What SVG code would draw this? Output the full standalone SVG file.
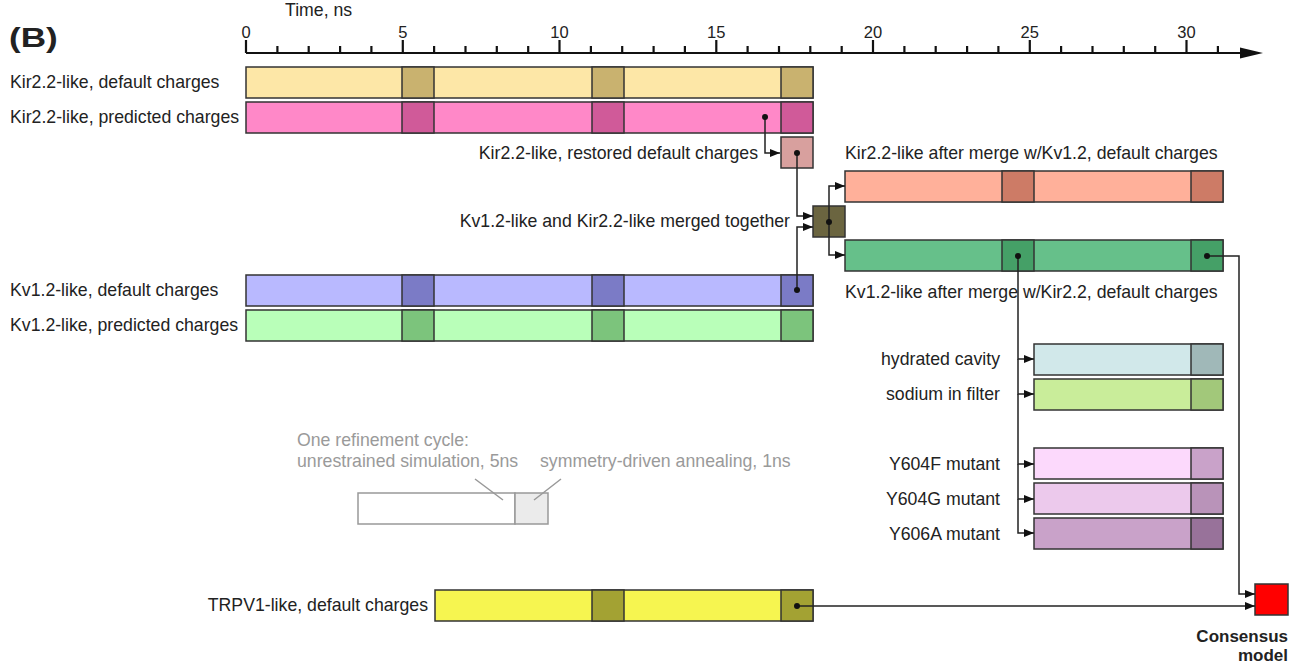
<svg xmlns="http://www.w3.org/2000/svg" width="1299" height="667" viewBox="0 0 1299 667">
<defs>
<style>
text{font-family:"Liberation Sans",Arial,sans-serif;font-size:17.7px;fill:#222}
.num{font-size:16.5px;text-anchor:middle}
.r{text-anchor:end}
.g{fill:#9a9a9a}
.b{font-weight:bold}
.seg{stroke:#333;stroke-width:1.5}
.out{fill:none;stroke:#444;stroke-width:1.5}
.con{fill:none;stroke:#222;stroke-width:1.5}
.dot{fill:#111}
</style>
<marker id="ah" viewBox="0 0 10 8" refX="10" refY="4" markerWidth="10" markerHeight="8" markerUnits="userSpaceOnUse" orient="auto">
<path d="M0,0 L10,4 L0,8 z" fill="#111"/>
</marker>
</defs>
<rect width="1299" height="667" fill="#fff"/>
<g id="title"><text transform="translate(9,47) scale(1.3,1)" class="b" style="font-size:27px">(B)</text></g>
<g id="axis">
<text x="285" y="16">Time, ns</text>
<path d="M246,53 H1245" stroke="#111" stroke-width="2.2" fill="none"/>
<polygon points="1240,47.5 1263,53 1240,58.5" fill="#111"/>
<path stroke="#111" stroke-width="2.2" fill="none" d="M246,40V53 M277.4,46V53 M308.7,46V53 M340.1,46V53 M371.4,46V53 M402.8,40V53 M434.1,46V53 M465.5,46V53 M496.8,46V53 M528.2,46V53 M559.5,40V53 M590.9,46V53 M622.2,46V53 M653.6,46V53 M684.9,46V53 M716.3,40V53 M747.6,46V53 M779,46V53 M810.3,46V53 M841.7,46V53 M873,40V53 M904.4,46V53 M935.7,46V53 M967.1,46V53 M998.4,46V53 M1029.8,40V53 M1061.1,46V53 M1092.5,46V53 M1123.8,46V53 M1155.2,46V53 M1186.5,40V53 M1217.9,46V53"/>
<text class="num" x="246" y="38">0</text>
<text class="num" x="402.8" y="38">5</text>
<text class="num" x="559.5" y="38">10</text>
<text class="num" x="716.3" y="38">15</text>
<text class="num" x="873" y="38">20</text>
<text class="num" x="1029.8" y="38">25</text>
<text class="num" x="1186.5" y="38">30</text>
</g>

<g id="kir-default">
<text x="10" y="88">Kir2.2-like, default charges</text>
<rect class="seg" x="246" y="67" width="567" height="31" fill="#fde7a7"/>
<rect class="seg" x="402" y="67" width="32" height="31" fill="#c9b26f"/>
<rect class="seg" x="592" y="67" width="32" height="31" fill="#c9b26f"/>
<rect class="seg" x="781" y="67" width="32" height="31" fill="#c9b26f"/>
</g>
<g id="kir-predicted">
<text x="10" y="123">Kir2.2-like, predicted charges</text>
<rect class="seg" x="246" y="102" width="567" height="31" fill="#ff88c8"/>
<rect class="seg" x="402" y="102" width="32" height="31" fill="#d05a99"/>
<rect class="seg" x="592" y="102" width="32" height="31" fill="#d05a99"/>
<rect class="seg" x="781" y="102" width="32" height="31" fill="#d05a99"/>
</g>
<g id="kir-restored">
<text class="r" x="758" y="159">Kir2.2-like, restored default charges</text>
<rect class="seg" x="781" y="137" width="32" height="31" fill="#d8a09e"/>
</g>
<g id="merged">
<text class="r" x="790" y="227">Kv1.2-like and Kir2.2-like merged together</text>
<rect class="seg" x="813" y="206" width="32" height="31" fill="#6b6540"/>
</g>
<g id="kir-after-merge">
<text x="845" y="159">Kir2.2-like after merge w/Kv1.2, default charges</text>
<rect class="seg" x="845" y="171" width="378" height="31" fill="#ffb09a"/>
<rect class="seg" x="1002" y="171" width="32" height="31" fill="#cd7b66"/>
<rect class="seg" x="1191" y="171" width="32" height="31" fill="#cd7b66"/>
</g>
<g id="kv-after-merge">
<text x="845" y="298">Kv1.2-like after merge w/Kir2.2, default charges</text>
<rect class="seg" x="845" y="240" width="378" height="31" fill="#66c08a"/>
<rect class="seg" x="1002" y="240" width="32" height="31" fill="#45a067"/>
<rect class="seg" x="1191" y="240" width="32" height="31" fill="#45a067"/>
</g>
<g id="kv-default">
<text x="10" y="296">Kv1.2-like, default charges</text>
<rect class="seg" x="246" y="275" width="567" height="31" fill="#b9b9ff"/>
<rect class="seg" x="402" y="275" width="32" height="31" fill="#7b7bc6"/>
<rect class="seg" x="592" y="275" width="32" height="31" fill="#7b7bc6"/>
<rect class="seg" x="781" y="275" width="32" height="31" fill="#7b7bc6"/>
</g>
<g id="kv-predicted">
<text x="10" y="331">Kv1.2-like, predicted charges</text>
<rect class="seg" x="246" y="310" width="567" height="31" fill="#b9ffb9"/>
<rect class="seg" x="402" y="310" width="32" height="31" fill="#7cc47c"/>
<rect class="seg" x="592" y="310" width="32" height="31" fill="#7cc47c"/>
<rect class="seg" x="781" y="310" width="32" height="31" fill="#7cc47c"/>
</g>
<g id="hydrated-cavity">
<text class="r" x="1000" y="365">hydrated cavity</text>
<rect class="seg" x="1034" y="344" width="189" height="31" fill="#d1e8ea"/>
<rect class="seg" x="1191" y="344" width="32" height="31" fill="#a0b8b8"/>
</g>
<g id="sodium-in-filter">
<text class="r" x="1000" y="400">sodium in filter</text>
<rect class="seg" x="1034" y="379" width="189" height="31" fill="#c9ed9a"/>
<rect class="seg" x="1191" y="379" width="32" height="31" fill="#a2c87a"/>
</g>
<g id="y604f">
<text class="r" x="1000" y="470">Y604F mutant</text>
<rect class="seg" x="1034" y="448" width="189" height="31" fill="#fcd9fc"/>
<rect class="seg" x="1191" y="448" width="32" height="31" fill="#c9a2c9"/>
</g>
<g id="y604g">
<text class="r" x="1000" y="505">Y604G mutant</text>
<rect class="seg" x="1034" y="483" width="189" height="31" fill="#ecc9ec"/>
<rect class="seg" x="1191" y="483" width="32" height="31" fill="#b993b9"/>
</g>
<g id="y606a">
<text class="r" x="1000" y="540">Y606A mutant</text>
<rect class="seg" x="1034" y="518" width="189" height="31" fill="#c9a2c9"/>
<rect class="seg" x="1191" y="518" width="32" height="31" fill="#98729a"/>
</g>
<g id="trpv1">
<text class="r" x="428" y="611">TRPV1-like, default charges</text>
<rect class="seg" x="435" y="590" width="378" height="31" fill="#f6f550"/>
<rect class="seg" x="592" y="590" width="32" height="31" fill="#a3a233"/>
<rect class="seg" x="781" y="590" width="32" height="31" fill="#a3a233"/>
</g>
<g id="consensus">
<rect x="1255" y="584" width="33" height="31" fill="#ff0000" stroke="#333" stroke-width="1.5"/>
<text class="r b" x="1288" y="642" style="font-size:17px">Consensus</text>
<text class="r b" x="1288" y="661" style="font-size:17px">model</text>
</g>
<g id="legend">
<text class="g" x="297" y="446">One refinement cycle:</text>
<text class="g" x="297" y="467">unrestrained simulation, 5ns</text>
<text class="g" x="540" y="467">symmetry-driven annealing, 1ns</text>
<rect x="358" y="493" width="157" height="31" fill="#fff" stroke="#999" stroke-width="1.5"/>
<rect x="515" y="493" width="33" height="31" fill="#ebebeb" stroke="#999" stroke-width="1.5"/>
<path d="M475,479 L503,500 M561,479 L534,500" stroke="#999" stroke-width="1.5" fill="none"/>
</g>
<g id="connectors">
<path class="con" d="M765,117 V153 H780" marker-end="url(#ah)"/>
<path class="con" d="M797,153 V216 H813" marker-end="url(#ah)"/>
<path class="con" d="M797,290 V227 H813" marker-end="url(#ah)"/>
<path class="con" d="M829,222 V186 H845" marker-end="url(#ah)"/>
<path class="con" d="M829,222 V255 H845" marker-end="url(#ah)"/>
<path class="con" d="M1018,256 V359 H1034" marker-end="url(#ah)"/>
<path class="con" d="M1018,359 V394 H1034" marker-end="url(#ah)"/>
<path class="con" d="M1018,394 V464 H1034" marker-end="url(#ah)"/>
<path class="con" d="M1018,464 V499 H1034" marker-end="url(#ah)"/>
<path class="con" d="M1018,499 V533 H1034" marker-end="url(#ah)"/>
<path class="con" d="M1207,256 H1239 V594 H1255" marker-end="url(#ah)"/>
<path class="con" d="M797,606 H1255" marker-end="url(#ah)"/>
<circle class="dot" cx="765" cy="117" r="3"/>
<circle class="dot" cx="797" cy="153" r="3"/>
<circle class="dot" cx="797" cy="290" r="3"/>
<circle class="dot" cx="829" cy="222" r="3"/>
<circle class="dot" cx="1018" cy="256" r="3"/>
<circle class="dot" cx="1207" cy="256" r="3"/>
<circle class="dot" cx="797" cy="606" r="3"/>
</g>
</svg>
